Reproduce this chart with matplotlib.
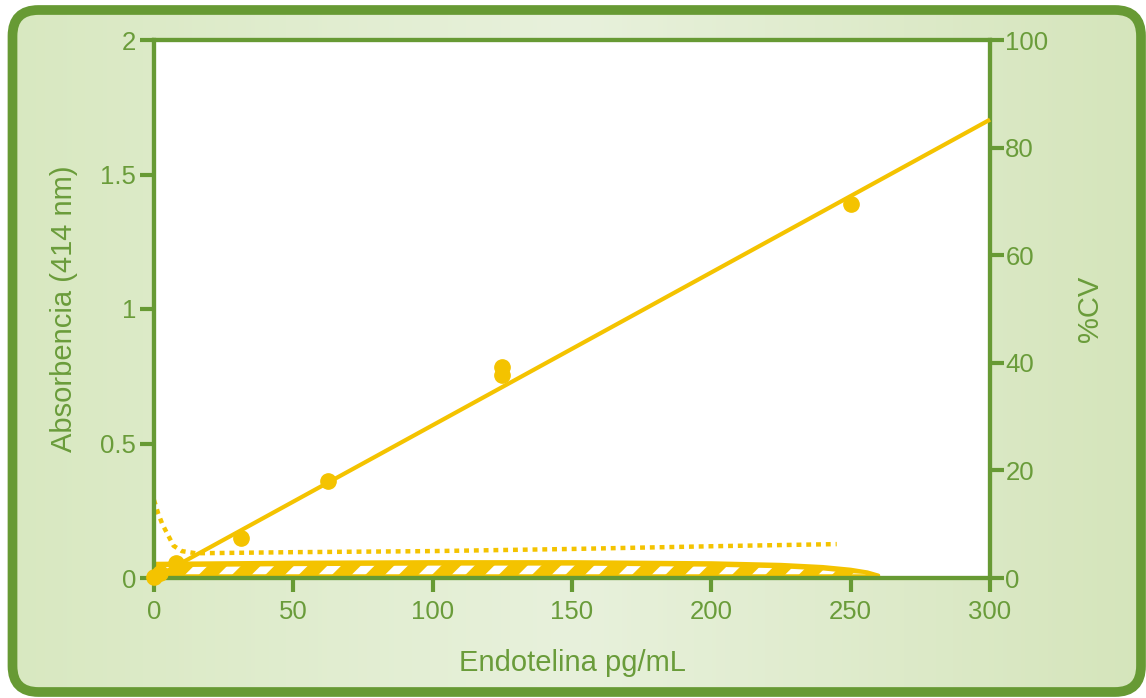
import numpy as np
import matplotlib
matplotlib.use("Agg")
import matplotlib.pyplot as plt
from matplotlib.patches import FancyBboxPatch
from matplotlib.colors import LinearSegmentedColormap

plt.rcParams["font.family"] = ["Liberation Sans", "DejaVu Sans"]
plt.rcParams["hatch.linewidth"] = 7.0

# Standard curve: concentration (pg/mL) vs absorbance at 414 nm
conc = [0.0, 2.0, 7.8, 31.25, 62.5, 125.0, 125.0, 250.0]
absorbance = [0.005, 0.02, 0.055, 0.15, 0.36, 0.755, 0.785, 1.39]

# Linear fit of the standard curve
fit_x = [0.0, 300.0]
fit_slope = 0.00568
fit_intercept = 0.0

# %CV of the replicates (dotted)
cv_x = [0, 1.5, 3, 5, 7, 10, 15, 50, 100, 150, 200, 245]
cv_y = [14.5, 12.0, 10.0, 8.0, 6.0, 5.0, 4.6, 4.8, 5.0, 5.4, 5.9, 6.3]

# %CV band (hatched)
band_x = [0, 25, 50, 100, 150, 200, 225, 240, 250, 256, 260]
band_top = [2.7, 2.8, 2.9, 3.0, 3.0, 2.8, 2.5, 2.1, 1.6, 1.1, 0.5]

x_ticks = [0, 50, 100, 150, 200, 250, 300]
y_ticks = [0, 0.5, 1, 1.5, 2]
y_tick_labels = ["0", "0.5", "1", "1.5", "2"]
cv_ticks = [0, 20, 40, 60, 80, 100]

GREEN = "#679a34"
TEXT = "#6a9c3a"
YELLOW = "#f4c300"

W, H = 1146, 698
fig = plt.figure(figsize=(W / 100, H / 100), dpi=100)
fig.patch.set_facecolor("white")

# Rounded green frame with soft gradient background
bg = fig.add_axes([0, 0, 1, 1], zorder=-5)
bg.set_xlim(0, W)
bg.set_ylim(0, H)
bg.axis("off")
cmap = LinearSegmentedColormap.from_list(
    "bg", [(0.0, "#d8e8c0"), (0.5, "#e8f1dc"), (1.0, "#d5e5bb")])
grad = np.linspace(0, 1, 256).reshape(1, -1)
img = bg.imshow(grad, cmap=cmap, aspect="auto", extent=[0, W, 0, H], zorder=0)
frame = FancyBboxPatch((12.5, 6), 1128.5, 682,
                       boxstyle="round,pad=0,rounding_size=26",
                       facecolor="none", edgecolor=GREEN, linewidth=7, zorder=2)
bg.add_patch(frame)
img.set_clip_path(frame)

# Main axes (absorbance) and twin axes (%CV)
ax = fig.add_axes([154 / W, 1 - 578 / H, (990 - 154) / W, (578 - 40) / H])
ax.set_xlim(0, 300)
ax.set_ylim(0, 2)
ax2 = ax.twinx()
ax2.set_ylim(0, 100)
ax.set_zorder(ax2.get_zorder() + 1)
ax.patch.set_visible(False)
ax2.patch.set_visible(True)
ax2.patch.set_facecolor("white")

for a in (ax, ax2):
    for s in a.spines.values():
        s.set_color(GREEN)
        s.set_linewidth(3)

ax.set_xticks(x_ticks)
ax.set_yticks(y_ticks)
ax.set_yticklabels(y_tick_labels)
ax2.set_yticks(cv_ticks)
ax.tick_params(axis="both", colors=GREEN, labelcolor=TEXT, length=10, width=3,
               labelsize=18.5, pad=3)
ax2.tick_params(axis="y", colors=GREEN, labelcolor=TEXT, length=10, width=3,
                labelsize=18.5, pad=1)
ax.tick_params(axis="x", pad=6)

ax.set_xlabel("Endotelina pg/mL", color=TEXT, fontsize=21, labelpad=18)
ax.set_ylabel("Absorbencia (414 nm)", color=TEXT, fontsize=21, labelpad=16)
ax2.set_ylabel("%CV", color=TEXT, fontsize=21, labelpad=20)

# %CV band: yellow body with white slanted marks inside
bx = np.array(band_x, dtype=float)
bt = np.array(band_top, dtype=float)
ax2.fill_between(bx, 0, bt, facecolor=YELLOW, edgecolor="none", linewidth=0,
                 zorder=1)
ax2.plot(bx, bt, color=YELLOW, linewidth=2.5, solid_capstyle="round", zorder=1.2)
inset = 0.7
inner_lo = np.full_like(bt, inset)
inner_hi = np.maximum(bt - inset, inset)
ax2.fill_between(bx, inner_lo, inner_hi, where=bt > 2 * inset, interpolate=True,
                 facecolor="none", edgecolor="white", hatch="/", linewidth=0,
                 zorder=1.4)

# %CV dotted curve
ax2.plot(cv_x, cv_y, color=YELLOW, linewidth=3.2, linestyle=(0, (1.1, 1.1)),
         dash_capstyle="butt", zorder=2)

# Fit line and measured points
fx = np.array(fit_x)
ax.plot(fx, fit_slope * fx + fit_intercept, color=YELLOW, linewidth=3,
        solid_capstyle="butt", clip_on=False, zorder=3)
ax.plot(conc, absorbance, "o", color=YELLOW, markersize=11, clip_on=False,
        zorder=4)

fig.savefig("out.png", dpi=100)
